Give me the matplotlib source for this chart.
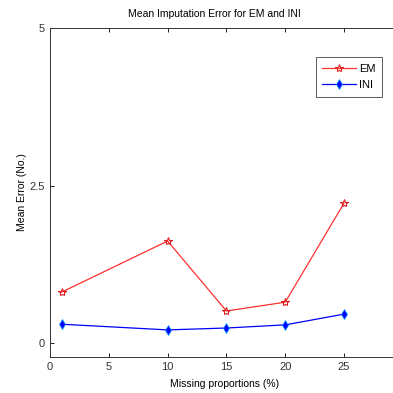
import numpy as np
import matplotlib.pyplot as plt

plt.rcParams['font.family'] = ['Liberation Sans', 'DejaVu Sans']

missing = [1, 10, 15, 20, 25]
em_err = [0.81, 1.62, 0.51, 0.65, 2.22]
ini_err = [0.30, 0.21, 0.24, 0.29, 0.46]

fig = plt.figure(figsize=(3.93, 3.93), dpi=100)
ax = fig.add_axes([50/393, 36/393, 350/393, 329/393])

ax.plot(missing, em_err, color='#ff3030', lw=0.9, marker='*', ms=6,
        mfc='none', mec='#e02020', mew=0.8, label='EM')
ax.plot(missing, ini_err, color='#0000ff', lw=0.9, marker='d', ms=5,
        mfc='#0000ff', mec='#00a0ff', mew=0.5, label='INI')

ax.set_xlim(0, 29.76)
ax.set_ylim(-0.22, 5)
ax.set_xticks([0, 5, 10, 15, 20, 25])
ax.set_yticks([0, 2.5, 5])
ax.set_yticklabels(['0', '2.5', '5'])
ax.tick_params(direction='in', top=True, right=True, labelsize=8,
               labelcolor='#333333', length=3, width=0.6)
for s in ax.spines.values():
    s.set_linewidth(0.7)
    s.set_color('#333333')

ax.set_title('Mean Imputation Error for EM and INI', fontsize=7.5, pad=8, x=0.471)
ax.set_xlabel('Missing proportions (%)', fontsize=7.5, labelpad=5)
ax.set_ylabel('Mean Error (No.)', fontsize=7.5, labelpad=2)

leg = ax.legend(loc='upper right', bbox_to_anchor=(332/350, 0.912), fontsize=8,
                frameon=True, fancybox=False, handlelength=3, borderpad=0.6,
                labelspacing=0.6, handletextpad=0.3, borderaxespad=0)
leg.get_frame().set_edgecolor('#333333')
leg.get_frame().set_linewidth(0.7)

fig.savefig('out.png', dpi=100)
